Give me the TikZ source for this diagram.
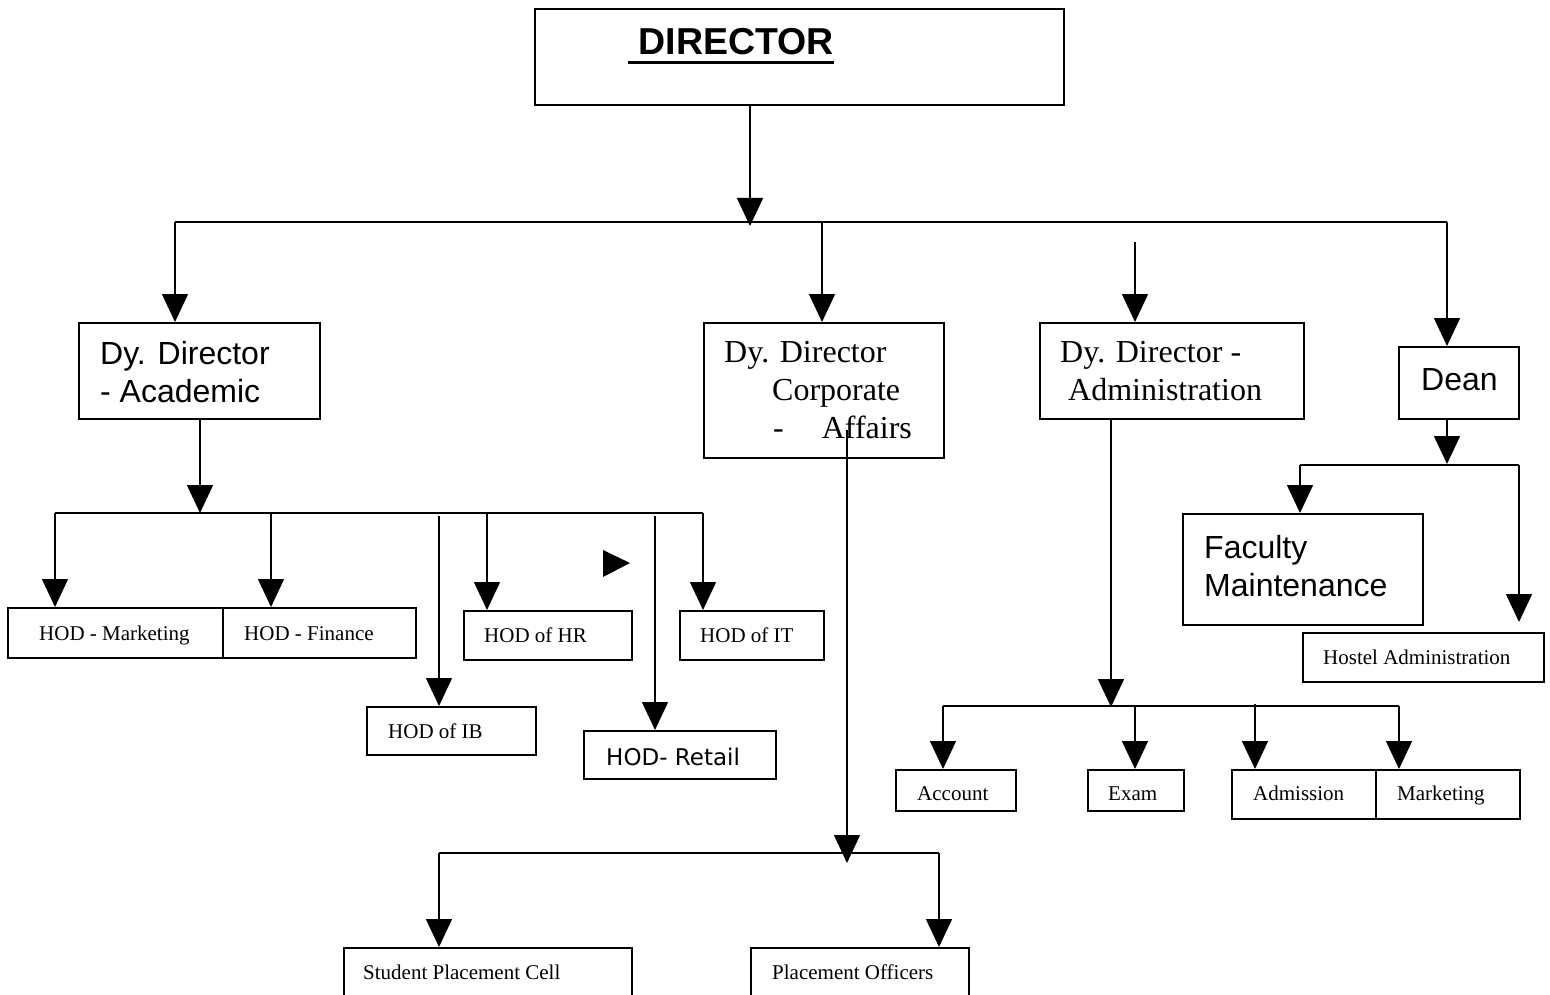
\documentclass[tikz,border=0pt]{standalone}
\usepackage{fontspec}
\setmainfont{Liberation Serif}
\newfontfamily\arialfont{Liberation Sans}
\newfontfamily\verdfont{DejaVu Sans}
\usetikzlibrary{arrows.meta}
\newcommand{\thickul}[1]{\leavevmode\setbox0=\hbox{#1}\rlap{\rule[-9pt]{\wd0}{3pt}}\box0}

\begin{document}
\begin{tikzpicture}[x=1pt,y=-1pt]
    \tikzstyle{box}=[draw=black,line width=1.8pt,anchor=north west,inner sep=0pt]
    \tikzstyle{lbl}=[anchor=base west,inner sep=0pt,align=left]
    \tikzstyle{edge}=[draw=black,line width=1.5pt,-]
    \tikzstyle{arr}=[draw=black,line width=1.5pt,-{Triangle[width=26pt,length=28pt]}]
    \tikzstyle{big}=[font=\arialfont\fontsize{32}{38}\selectfont]
    \tikzstyle{serif}=[font=\fontsize{32}{38}\selectfont]
    \tikzstyle{small}=[font=\fontsize{21}{25}\selectfont]

    \useasboundingbox (0,0) rectangle (1550,995);
    \clip (0,0) rectangle (1550,995);

    % boxes
    \node[box,minimum width=529pt,minimum height=96pt]  (dir)    at (534,8)    {};
    \node[box,minimum width=241pt,minimum height=96pt]  (acad)   at (78,322)   {};
    \node[box,minimum width=240pt,minimum height=135pt] (corp)   at (703,322)  {};
    \node[box,minimum width=264pt,minimum height=96pt]  (admin)  at (1039,322) {};
    \node[box,minimum width=120pt,minimum height=72pt]  (dean)   at (1398,346) {};
    \node[box,minimum width=215pt,minimum height=50pt]  (hmkt)   at (7,607)    {};
    \node[box,minimum width=193pt,minimum height=50pt]  (hfin)   at (222,607)  {};
    \node[box,minimum width=168pt,minimum height=49pt]  (hhr)    at (463,610)  {};
    \node[box,minimum width=144pt,minimum height=49pt]  (hit)    at (679,610)  {};
    \node[box,minimum width=169pt,minimum height=48pt]  (hib)    at (366,706)  {};
    \node[box,minimum width=192pt,minimum height=48pt]  (hret)   at (583,730)  {};
    \node[box,minimum width=240pt,minimum height=111pt] (fac)    at (1182,513) {};
    \node[box,minimum width=241pt,minimum height=49pt]  (hostel) at (1302,632) {};
    \node[box,minimum width=120pt,minimum height=41pt]  (acc)    at (895,769)  {};
    \node[box,minimum width=96pt,minimum height=41pt]   (exam)   at (1087,769) {};
    \node[box,minimum width=144pt,minimum height=49pt]  (adm)    at (1231,769) {};
    \node[box,minimum width=144pt,minimum height=49pt]  (mkt)    at (1375,769) {};
    \node[box,minimum width=288pt,minimum height=70pt]  (spc)    at (343,947)  {};
    \node[box,minimum width=218pt,minimum height=70pt]  (po)     at (750,947)  {};

    % texts (multi-line ones sit on their last baseline)
    \node[lbl,font=\arialfont\bfseries\fontsize{37.5}{42}\selectfont] (dirT) at (628,55) {\thickul{\ DIRECTOR}};
    \node[lbl,big]   (acadT)   at (100,402)  {Dy. Director\\- Academic};
    \node[lbl,serif] (corpT)   at (724,438)  {Dy. Director\\\hspace*{48pt}Corporate\\\hspace*{49pt}-\hspace*{38pt}Affairs};
    \node[lbl,serif] (adminT)  at (1060,400) {Dy. Director -\\\hspace*{8pt}Administration};
    \node[lbl,big]   (deanT)   at (1421,390) {Dean};
    \node[lbl,big]   (facT)    at (1204,596) {Faculty\\Maintenance};
    \node[lbl,small] (hmktT)   at (39,640)   {HOD - Marketing};
    \node[lbl,small] (hfinT)   at (244,640)  {HOD - Finance};
    \node[lbl,small] (hhrT)    at (484,642)  {HOD of HR};
    \node[lbl,small] (hitT)    at (700,642)  {HOD of IT};
    \node[lbl,small] (hibT)    at (388,738)  {HOD of IB};
    \node[lbl,font=\verdfont\fontsize{23}{27}\selectfont] (hretT) at (606,765) {HOD- Retail};
    \node[lbl,small] (hostelT) at (1323,664) {Hostel Administration};
    \node[lbl,small] (accT)    at (917,800)  {Account};
    \node[lbl,small] (examT)   at (1108,800) {Exam};
    \node[lbl,small] (admT)    at (1253,800) {Admission};
    \node[lbl,small] (mktT)    at (1397,800) {Marketing};
    \node[lbl,small] (spcT)    at (363,979)  {Student Placement Cell};
    \node[lbl,small] (poT)     at (772,979)  {Placement Officers};

    % director level
    \coordinate (j0)  at (750,226);
    \coordinate (b0l) at (175,222);
    \coordinate (b0r) at (1447,222);
    \coordinate (b0c) at (822,222);
    \coordinate (b0d) at (1135,242);
    \path[arr] (j0 |- dir.south) -- (j0);
    \path[edge] (b0l) -- (b0r);
    \path[arr] (b0l) -- (b0l |- acad.north);
    \path[arr] (b0c) -- (b0c |- corp.north);
    \path[arr] (b0d) -- (b0d |- admin.north);
    \path[arr] (b0r) -- (b0r |- dean.north);

    % academic
    \coordinate (j1)  at (200,513);
    \coordinate (b1l) at (55,513);
    \coordinate (b1a) at (271,513);
    \coordinate (b1b) at (439,516);
    \coordinate (b1c) at (487,513);
    \coordinate (b1d) at (655,516);
    \coordinate (b1r) at (703,513);
    \path[arr] (j1 |- acad.south) -- (j1);
    \path[edge] (b1l) -- (b1r);
    \path[arr] (b1l) -- (b1l |- hmkt.north);
    \path[arr] (b1a) -- (b1a |- hfin.north);
    \path[arr] (b1b) -- (b1b |- hib.north);
    \path[arr] (b1c) -- (b1c |- hhr.north);
    \path[arr] (b1d) -- (b1d |- hret.north);
    \path[arr] (b1r) -- (b1r |- hit.north);
    \fill (603,550) -- (630,563) -- (603,577) -- cycle;

    % corporate affairs
    \coordinate (c2)  at (847,430);
    \coordinate (j2)  at (847,863);
    \coordinate (b2l) at (439,853);
    \coordinate (b2r) at (939,853);
    \path[arr] (c2) -- (j2);
    \path[edge] (b2l) -- (b2r);
    \path[arr] (b2l) -- (b2l |- spc.north);
    \path[arr] (b2r) -- (b2r |- po.north);

    % administration
    \coordinate (j3)  at (1111,707);
    \coordinate (b3l) at (943,706);
    \coordinate (b3a) at (1135,706);
    \coordinate (b3b) at (1255,704);
    \coordinate (b3r) at (1399,706);
    \path[arr] (j3 |- admin.south) -- (j3);
    \path[edge] (b3l) -- (b3r);
    \path[arr] (b3l) -- (b3l |- acc.north);
    \path[arr] (b3a) -- (b3a |- exam.north);
    \path[arr] (b3b) -- (b3b |- adm.north);
    \path[arr] (b3r) -- (b3r |- mkt.north);

    % dean
    \coordinate (j4)  at (1447,464);
    \coordinate (b4l) at (1300,465);
    \coordinate (b4r) at (1519,465);
    \coordinate (e4)  at (1519,622);
    \path[arr] (j4 |- dean.south) -- (j4);
    \path[edge] (b4l) -- (b4r);
    \path[arr] (b4l) -- (b4l |- fac.north);
    \path[arr] (b4r) -- (e4);
\end{tikzpicture}
\end{document}
